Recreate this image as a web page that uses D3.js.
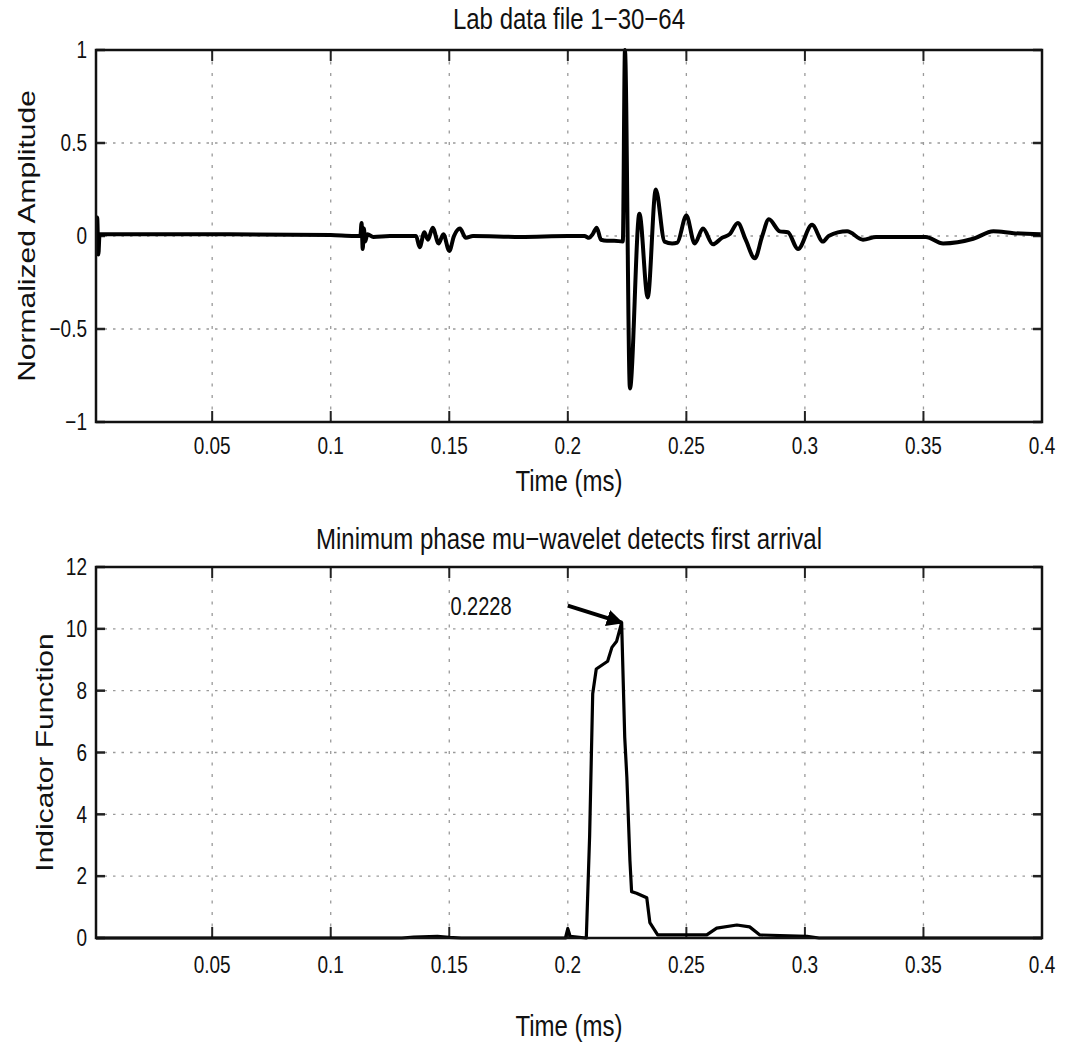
<!DOCTYPE html>
<html><head><meta charset="utf-8">
<script src="https://cdn.jsdelivr.net/npm/d3@7"></script>
<style>body{margin:0;background:#fff}svg{display:block}</style>
</head><body>
<svg id="chart" width="1065" height="1046"></svg>
<script>
// ---------- data ----------
const topTime = [0.001,0.0015,0.002,0.0025,0.05,0.1,0.11,0.1125,0.113,0.1135,0.114,0.1145,0.1155,0.118,0.125,0.136,0.1375,0.1395,0.141,0.143,0.1455,0.1475,0.150,0.152,0.1545,0.157,0.16,0.18,0.2,0.207,0.209,0.2105,0.2122,0.214,0.2165,0.2195,0.2232,0.2241,0.2262,0.2302,0.2337,0.2371,0.2408,0.2440,0.2462,0.2500,0.2535,0.2570,0.2612,0.2650,0.2683,0.2717,0.2750,0.2789,0.2820,0.2848,0.2894,0.2928,0.2971,0.3030,0.3076,0.3100,0.3178,0.3245,0.3300,0.3450,0.3510,0.3583,0.3710,0.3795,0.3880,0.3995];
const topAmp  = [0.0,0.1,-0.1,0.01,0.01,0.005,0.0,0.0,0.07,-0.07,0.04,-0.03,0.01,-0.005,0.0,0.0,-0.06,0.02,-0.02,0.045,-0.04,0.01,-0.08,0.0,0.04,-0.01,0.0,-0.005,0.0,0.0,-0.01,0.01,0.045,-0.02,-0.025,-0.025,-0.03,1.0,-0.82,0.12,-0.33,0.25,-0.03,-0.04,-0.035,0.11,-0.04,0.04,-0.045,-0.01,0.01,0.07,-0.02,-0.12,0.0,0.09,0.025,0.02,-0.07,0.06,-0.03,0.0,0.025,-0.02,-0.005,-0.005,-0.005,-0.04,-0.015,0.025,0.015,0.01];

const botTime = [0.001,0.13,0.135,0.145,0.15,0.155,0.199,0.2,0.201,0.2078,0.2092,0.2105,0.2120,0.2168,0.2186,0.2206,0.2227,0.2240,0.2249,0.2262,0.2269,0.2290,0.2333,0.2346,0.2379,0.2586,0.2628,0.2713,0.2767,0.2810,0.3009,0.306,0.4];
const botInd  = [0,0,0.03,0.05,0.02,0,0,0.3,0.05,0,3.3,7.9,8.7,8.95,9.4,9.6,10.2,6.5,5.2,2.5,1.5,1.45,1.3,0.5,0.1,0.1,0.32,0.42,0.36,0.1,0.05,0,0];

const xTicks = [0.05,0.1,0.15,0.2,0.25,0.3,0.35,0.4];
const xTickLabels = ["0.05","0.1","0.15","0.2","0.25","0.3","0.35","0.4"];
const topYTicks = [-1,-0.5,0,0.5,1];
const topYTickLabels = ["\u22121","\u22120.5","0","0.5","1"];
const botYTicks = [0,2,4,6,8,10,12];
const botYTickLabels = ["0","2","4","6","8","10","12"];
const titles = ["Lab data file 1\u221230\u221264","Minimum phase mu\u2212wavelet detects first arrival"];
const xLabels = ["Time (ms)","Time (ms)"];
const yLabels = ["Normalized Amplitude","Indicator Function"];
const annotText = "0.2228";
const annotArrow = [[0.2, 10.75],[0.2228, 10.2]];
const annotTextPos = [0.1505, 10.72];

// ---------- layout ----------
const svg = d3.select("#chart");
const SY = 1.25;
const FONT = "'Liberation Sans', Arial, Helvetica, sans-serif";
const L = 96, R = 1042;
const panels = [
  {top:50, bottom:422, domain:[-1,1], ticks:topYTicks, labels:topYTickLabels, t:topTime, v:topAmp, sw:4.0,
   curve:d3.curveMonotoneX, titleY:18, tickY:446, xlabY:480, ylabX:27},
  {top:567, bottom:938, domain:[0,12], ticks:botYTicks, labels:botYTickLabels, t:botTime, v:botInd, sw:3.2,
   curve:d3.curveLinear, titleY:538, tickY:965, xlabY:1025, ylabX:45}
];

function txt(x, y, s, size, anchor, rot) {
  return svg.append("text")
    .attr("transform", `translate(${x},${y}) scale(1,${SY})` + (rot ? " rotate(-90)" : ""))
    .attr("text-anchor", anchor)
    .attr("dy", "0.35em")
    .attr("font-family", FONT)
    .attr("font-size", size)
    .attr("fill", "#111")
    .text(s);
}

svg.append("defs").append("marker")
  .attr("id","arrowhead").attr("viewBox","0 0 10 10").attr("refX",9).attr("refY",5)
  .attr("markerWidth",4.2).attr("markerHeight",4.2).attr("orient","auto")
  .append("path").attr("d","M0,0 L10,5 L0,10 z").attr("fill","#000");

panels.forEach((p, i) => {
  const x = d3.scaleLinear().domain([0.001, 0.4]).range([L, R]);
  const y = d3.scaleLinear().domain(p.domain).range([p.bottom, p.top]);
  const g = svg.append("g");

  // grid
  g.selectAll(".vg").data(xTicks.slice(0,-1)).enter().append("line")
    .attr("x1", d => x(d)).attr("x2", d => x(d)).attr("y1", p.top).attr("y2", p.bottom)
    .attr("stroke", "#9a9a9a").attr("stroke-width", 1.3).attr("stroke-dasharray", "3,8.5");
  g.selectAll(".hg").data(p.ticks.slice(1,-1)).enter().append("line")
    .attr("x1", L).attr("x2", R).attr("y1", d => y(d)).attr("y2", d => y(d))
    .attr("stroke", "#9a9a9a").attr("stroke-width", 1.3).attr("stroke-dasharray", "2.5,6");
  if (i === 1) {
    g.append("line").attr("x1", L).attr("x2", R).attr("y1", y(12)).attr("y2", y(12))
      .attr("stroke", "#9a9a9a").attr("stroke-width", 1.3).attr("stroke-dasharray", "2.5,6");
  }

  // ticks (inward, all four sides)
  xTicks.forEach(d => {
    g.append("line").attr("x1", x(d)).attr("x2", x(d)).attr("y1", p.bottom).attr("y2", p.bottom - 11)
      .attr("stroke", "#222").attr("stroke-width", 2);
    g.append("line").attr("x1", x(d)).attr("x2", x(d)).attr("y1", p.top).attr("y2", p.top + 11)
      .attr("stroke", "#222").attr("stroke-width", 2);
  });
  p.ticks.forEach(d => {
    g.append("line").attr("x1", L).attr("x2", L + 9).attr("y1", y(d)).attr("y2", y(d))
      .attr("stroke", "#222").attr("stroke-width", 2.5);
    g.append("line").attr("x1", R).attr("x2", R - 9).attr("y1", y(d)).attr("y2", y(d))
      .attr("stroke", "#222").attr("stroke-width", 2.5);
  });

  // data line
  const clipId = "clip" + i;
  svg.append("clipPath").attr("id", clipId).append("rect")
    .attr("x", L).attr("y", p.top - 2).attr("width", R - L).attr("height", p.bottom - p.top + 4);
  const data = p.t.map((t, k) => [t, p.v[k]]);
  g.append("path").datum(data)
    .attr("clip-path", `url(#${clipId})`)
    .attr("d", d3.line().curve(p.curve).x(d => x(d[0])).y(d => y(d[1])))
    .attr("fill", "none").attr("stroke", "#000").attr("stroke-width", p.sw)
    .attr("stroke-linejoin", "round");

  // box
  g.append("rect").attr("x", L).attr("y", p.top).attr("width", R - L).attr("height", p.bottom - p.top)
    .attr("fill", "none").attr("stroke", "#111").attr("stroke-width", 2.5);

  // tick labels
  xTicks.forEach((d, k) => txt(x(d), p.tickY, xTickLabels[k], 19, "middle"));
  p.ticks.forEach((d, k) => txt(L - 9, y(d), p.labels[k], 19, "end"));

  // titles and labels
  txt((L + R) / 2, p.titleY, titles[i], 24, "middle");
  txt((L + R) / 2, p.xlabY, xLabels[i], 24, "middle");
  txt(p.ylabX, (p.top + p.bottom) / 2, yLabels[i], 24, "middle", true);

  if (i === 1) {
    g.append("line")
      .attr("x1", x(annotArrow[0][0])).attr("y1", y(annotArrow[0][1]))
      .attr("x2", x(annotArrow[1][0])).attr("y2", y(annotArrow[1][1]))
      .attr("stroke", "#000").attr("stroke-width", 4).attr("marker-end", "url(#arrowhead)");
    txt(x(annotTextPos[0]), y(annotTextPos[1]), annotText, 20, "start");
  }
});
</script>
</body></html>
